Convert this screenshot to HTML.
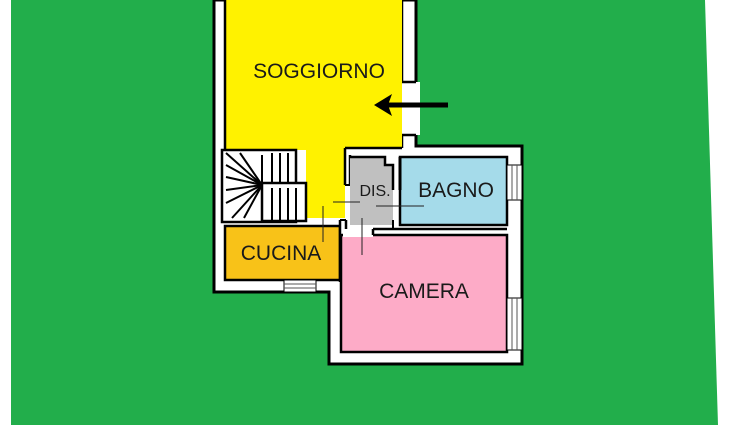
<!DOCTYPE html>
<html><head><meta charset="utf-8"><style>body{margin:0;background:#fff}svg{display:block}text{font-family:"Liberation Sans",sans-serif;fill:#1a1a1a}</style></head><body>
<svg width="750" height="425" viewBox="0 0 750 425" xmlns="http://www.w3.org/2000/svg">
<polygon points="11,0 705,0 718,425 11,425" fill="#22ae4b"/>
<polygon points="214,0 416,0 416,146 522,146 522,364 329,364 329,292 214,292" fill="#fff" stroke="#000" stroke-width="3"/>
<rect x="400" y="82" width="20" height="53" fill="#fff"/>
<line x1="402" y1="0" x2="402" y2="82" stroke="#000" stroke-width="2.5"/>
<line x1="402" y1="82" x2="416" y2="82" stroke="#000" stroke-width="2.5"/>
<line x1="402" y1="135" x2="416" y2="135" stroke="#000" stroke-width="2.5"/>
<line x1="402" y1="135" x2="402" y2="148" stroke="#000" stroke-width="2.5"/>
<polygon points="225,0 402,0 402,148 345,148 345,218 306,218 306,150 225,150" fill="#fff200"/>
<line x1="225" y1="0" x2="225" y2="150" stroke="#000" stroke-width="2.5"/>
<line x1="345" y1="148" x2="402" y2="148" stroke="#000" stroke-width="2.5"/>
<line x1="345" y1="148" x2="345" y2="185" stroke="#000" stroke-width="2.5"/>
<line x1="350" y1="155" x2="350" y2="185" stroke="#000" stroke-width="2.5"/>
<line x1="345" y1="185" x2="350" y2="185" stroke="#000" stroke-width="2"/>
<rect x="222" y="150" width="74" height="72" fill="#fff" stroke="#000" stroke-width="2.5"/>
<rect x="262" y="183" width="44" height="38" fill="#fff" stroke="#000" stroke-width="2.5"/>
<g stroke="#000" stroke-width="2">
<line x1="262" y1="155" x2="262" y2="183"/><line x1="272" y1="153" x2="272" y2="183"/><line x1="280" y1="153" x2="280" y2="183"/><line x1="288" y1="153" x2="288" y2="183"/>
<line x1="272" y1="188" x2="272" y2="220"/><line x1="280" y1="188" x2="280" y2="220"/><line x1="288" y1="188" x2="288" y2="220"/><line x1="296" y1="188" x2="296" y2="220"/>
<line x1="262" y1="185" x2="226" y2="153"/><line x1="262" y1="185" x2="226" y2="165"/><line x1="262" y1="185" x2="226" y2="177"/><line x1="262" y1="185" x2="226" y2="190"/><line x1="262" y1="185" x2="226" y2="203"/><line x1="262" y1="185" x2="232" y2="218"/><line x1="262" y1="185" x2="244" y2="218"/><line x1="262" y1="185" x2="240" y2="153"/>
</g>
<rect x="225" y="226" width="115" height="54" fill="#f8c218" stroke="#000" stroke-width="2.5"/>
<rect x="340" y="220" width="6" height="62" fill="#fff"/>
<line x1="340" y1="220" x2="340" y2="282" stroke="#000" stroke-width="2.5"/>
<line x1="346" y1="220" x2="346" y2="292" stroke="#000" stroke-width="2.5"/>
<line x1="340" y1="220" x2="346" y2="220" stroke="#000" stroke-width="2"/>
<rect x="284" y="280" width="32" height="12" fill="#fff" stroke="#000" stroke-width="1"/>
<line x1="284" y1="284" x2="316" y2="284" stroke="#555" stroke-width="1"/><line x1="284" y1="288" x2="316" y2="288" stroke="#555" stroke-width="1"/>
<polygon points="350,157 385,157 385,165 393,165 393,225 350,225" fill="#c0c0c0"/>
<path d="M350,157 H385 V165 H393 V190" fill="none" stroke="#000" stroke-width="2.5"/>
<line x1="393" y1="220" x2="393" y2="230" stroke="#000" stroke-width="2"/>
<rect x="400" y="157" width="107" height="68" fill="#a5dbea" stroke="#000" stroke-width="2.5"/>
<line x1="400" y1="157" x2="400" y2="190" stroke="#000" stroke-width="3"/>
<rect x="507" y="165" width="15" height="35" fill="#fff" stroke="#000" stroke-width="1"/>
<line x1="512" y1="165" x2="512" y2="200" stroke="#555"/><line x1="517" y1="165" x2="517" y2="200" stroke="#555"/>
<rect x="341" y="235" width="166" height="117" fill="#fdabc7" stroke="#000" stroke-width="2.5"/>
<rect x="343" y="229" width="30" height="8" fill="#fff"/>
<line x1="373" y1="229" x2="507" y2="229" stroke="#000" stroke-width="2.5"/>
<line x1="373" y1="229" x2="373" y2="235" stroke="#000" stroke-width="2.5"/>
<rect x="507" y="298" width="15" height="52" fill="#fff" stroke="#000" stroke-width="1"/>
<line x1="512" y1="298" x2="512" y2="350" stroke="#555"/><line x1="517" y1="298" x2="517" y2="350" stroke="#555"/>
<g stroke="#222" stroke-width="1">
<line x1="333" y1="202" x2="360" y2="202"/><line x1="376" y1="206" x2="424" y2="206"/>
<line x1="323" y1="206" x2="323" y2="242"/><line x1="362" y1="218" x2="362" y2="255"/>
</g>
<line x1="385" y1="105" x2="448" y2="105" stroke="#000" stroke-width="5"/>
<polygon points="374,105 392,94 388,105 392,116" fill="#000"/>
<text x="319" y="78" font-size="21" text-anchor="middle">SOGGIORNO</text>
<text x="375" y="196" font-size="16" text-anchor="middle">DIS.</text>
<text x="456" y="197" font-size="21" text-anchor="middle">BAGNO</text>
<text x="281" y="260" font-size="21" text-anchor="middle">CUCINA</text>
<text x="424" y="298" font-size="21" text-anchor="middle">CAMERA</text>
</svg>
</body></html>
